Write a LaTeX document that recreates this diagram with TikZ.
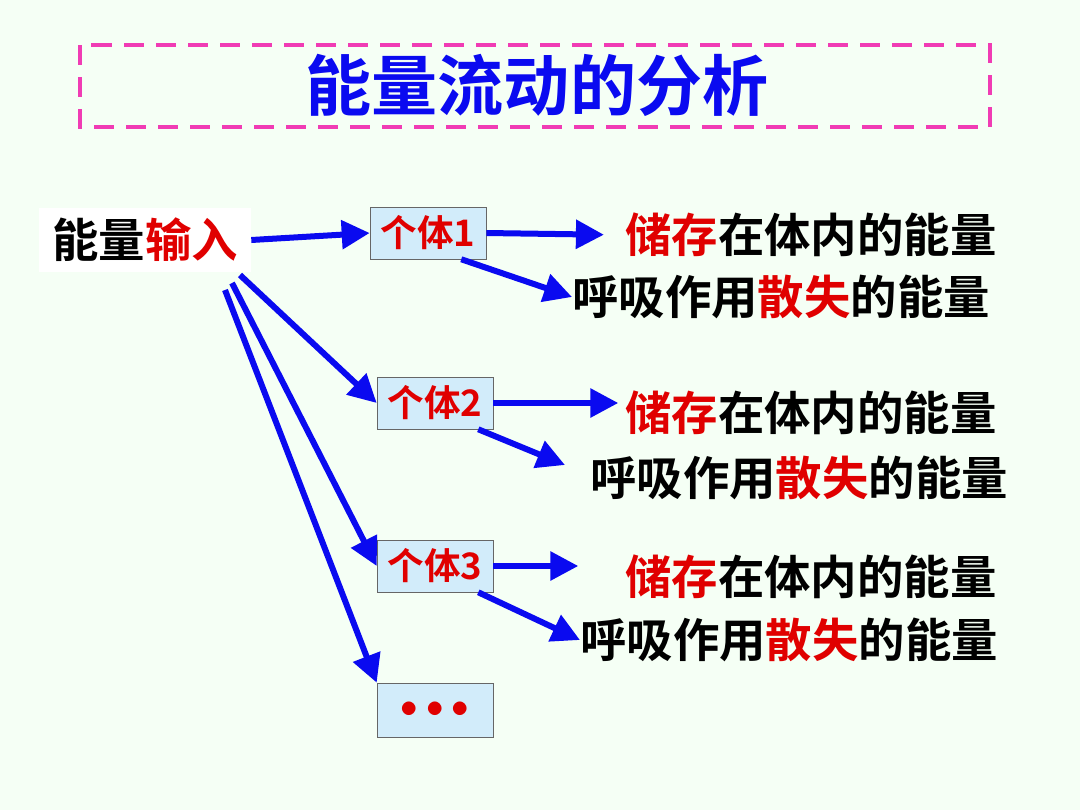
\documentclass[tikz,border=0pt]{standalone}
\usepackage{fontspec}
\setmainfont{Noto Sans CJK SC}[BoldFont={Noto Sans CJK SC Bold}]
\definecolor{flowBlue}{HTML}{0A0AF0}
\definecolor{flowRed}{HTML}{E00000}
\definecolor{flowMagenta}{HTML}{F03CB4}
\definecolor{flowBox}{HTML}{D2ECFA}
\usetikzlibrary{arrows.meta, positioning}
\tikzset{
    unit node/.style={rectangle, draw=black!60, fill=flowBox, minimum width=2.9cm, minimum height=1.3cm, inner sep=0pt, font=\fontsize{26}{26}\selectfont\bfseries, text=flowRed},
    text node/.style={inner sep=0pt, font=\fontsize{33}{33}\selectfont\bfseries},
    arrow style/.style={-{Triangle[length=7mm, width=7mm]}, line width=1.5mm, flowBlue},
}
\begin{document}
\begin{tikzpicture}[x=0.025cm, y=-0.025cm]
    \fill[green!4] (0,0) rectangle (1080,810);
    \draw[flowMagenta, line width=1mm, dash pattern=on 5mm off 3mm] (80,45) rectangle (990,127);
    \node[text node, font=\fontsize{47}{47}\selectfont\bfseries, text=flowBlue] (title) at (537,85) {能量流动的分析};

    % input and units
    \node[text node, fill=white, minimum width=5.3cm, minimum height=1.6cm] (input) at (145,240) {能量\textcolor{flowRed}{输入}};
    \node[unit node] (u1) at (428,233) {个体1};
    \node[unit node] (u2) at (435,403) {个体2};
    \node[unit node] (u3) at (435,566) {个体3};
    \node[unit node, minimum height=1.35cm] (u4) at (435,710) {\textbf{$\bullet\bullet\bullet$}};

    % results
    \foreach \n/\ys/\yl/\xs/\xl in {1/235/297/625/572, 2/413/478/625/590, 3/577/640/625/580} {
        \node[text node, anchor=west] (store\n) at (\xs,\ys) {\textcolor{flowRed}{储存}在体内的能量};
        \node[text node, anchor=west] (lost\n) at (\xl,\yl) {呼吸作用\textcolor{flowRed}{散失}的能量};
    }

    % arrows
    \draw[arrow style] (input.east) -- (u1.west);
    \draw[arrow style] (240,275) -- (u2.west);
    \draw[arrow style] (232,283) -- (u3.west);
    \draw[arrow style] (225,290) -- (u4.north west);
    \draw[arrow style, shorten >=15pt] (u1.east) -- (store1.west);
    \draw[arrow style] (u1.south east) ++(-25,0) -- (lost1.west);
    \draw[arrow style] (u2.east) -- ++(125,0) coordinate (s2);
    \draw[arrow style] (u2.south east) ++(-15,0) -- (565,465);
    \draw[arrow style] (u3.east) -- ++(85,0);
    \draw[arrow style] (u3.south east) ++(-15,0) -- (lost3.west);
\end{tikzpicture}
\end{document}
